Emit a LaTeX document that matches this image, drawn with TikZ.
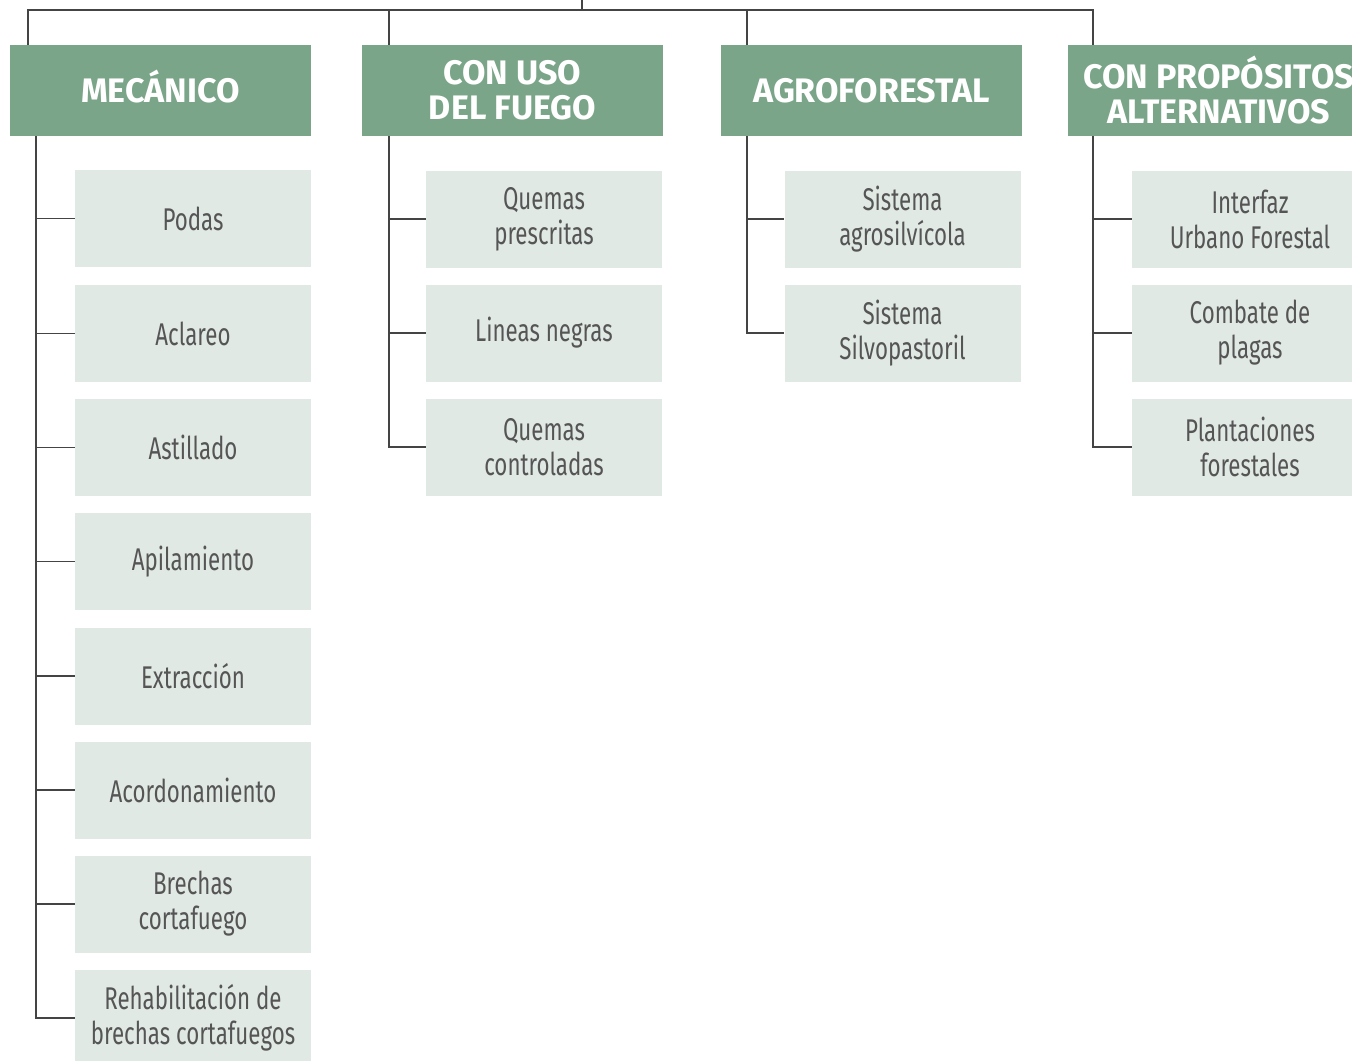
\documentclass[tikz,border=0pt]{standalone}
\usepackage{fontspec}
\setmainfont{Fira Sans}
\newfontfamily\itemfont[FakeStretch=0.71]{Fira Sans}
\newfontfamily\headfont{Fira Sans}
\definecolor{headgreen}{HTML}{7AA588}
\definecolor{itemgreen}{HTML}{E0E9E4}
\definecolor{linegray}{HTML}{444444}
\definecolor{textgray}{HTML}{555555}
\tikzset{
  head/.style={fill=headgreen, text=white, inner sep=0pt, align=center,
    minimum width=150.5pt, minimum height=45.5pt,
    font=\headfont\bfseries\fontsize{17}{17.5}\selectfont},
  headone/.style={head, text height=11.7pt, text depth=0pt},
  item/.style={fill=itemgreen, text=textgray, inner sep=0pt, align=center,
    minimum width=118pt, minimum height=48.5pt,
    font=\itemfont\fontsize{15.7}{17.5}\selectfont},
  link/.style={draw=linegray, line width=0.6pt}
}
\begin{document}
\begin{tikzpicture}[x=0.5pt,y=-0.5pt]
	\useasboundingbox (0,0) rectangle (1352,1060);
	\clip (0,0) rectangle (1352,1060);
	% cabeceras
	\node [headone] (mec) at (160.5,90.5) {MECÁNICO};
	\node [head] (fue) at (512.5,90.5) {CON USO\\DEL FUEGO};
	\node [headone] (agr) at (871.5,90.5) {AGROFORESTAL};
	\node [head] (alt) at (1218.5,90.5) {CON PROPÓSITOS\\ALTERNATIVOS};
	% mecanico
	\node [item] (podas) at (193,218.5) {Podas};
	\node [item] (aclareo) at (193,333.5) {Aclareo};
	\node [item] (astill) at (193,447.5) {Astillado};
	\node [item] (apil) at (193,561.5) {Apilamiento};
	\node [item] (extr) at (193,676) {Extracción};
	\node [item] (acord) at (193,790) {Acordonamiento};
	\node [item] (brechas) at (193,904) {Brechas\\cortafuego};
	\node [item] (rehab) at (193,1018) {Rehabilitación de\\brechas cortafuegos};
	% fuego
	\node [item] (qpres) at (544,219) {Quemas\\prescritas};
	\node [item] (lineas) at (544,333) {Lineas negras};
	\node [item] (qcont) at (544,447) {Quemas\\controladas};
	% agroforestal
	\node [item] (agros) at (902.5,219) {Sistema\\agrosilvícola};
	\node [item] (silvo) at (902.5,333) {Sistema\\Silvopastoril};
	% alternativos
	\node [item] (interf) at (1250,219) {Interfaz\\Urbano Forestal};
	\node [item] (plagas) at (1250,333) {Combate de\\plagas};
	\node [item] (plant) at (1250,447) {Plantaciones\\forestales};
	% lineas superiores
	\coordinate (root) at (582,0);
	\coordinate (d1) at (28,10);
	\coordinate (d2) at (389,10);
	\coordinate (d3) at (747,10);
	\coordinate (d4) at (1093,10);
	\draw [link] (root) -- (root |- d1);
	\draw [link] (mec.north -| d1) -- (d1) -- (d4) -- (alt.north -| d4);
	\draw [link] (d2) -- (fue.north -| d2);
	\draw [link] (d3) -- (agr.north -| d3);
	% ramas
	\coordinate (t1) at (36,0);
	\coordinate (t2) at (389,0);
	\coordinate (t3) at (747,0);
	\coordinate (t4) at (1093,0);
	\draw [link] (mec.south -| t1) |- (rehab.west);
	\foreach \n in {podas,aclareo,astill,apil,extr,acord,brechas}
		\draw [link] (t1 |- \n.west) -- (\n.west);
	\draw [link] (fue.south -| t2) |- (qcont.west);
	\draw [link] (t2 |- qpres.west) -- (qpres.west);
	\draw [link] (t2 |- lineas.west) -- (lineas.west);
	\draw [link] (agr.south -| t3) |- (silvo.west);
	\draw [link] (t3 |- agros.west) -- (agros.west);
	\draw [link] (alt.south -| t4) |- (plant.west);
	\draw [link] (t4 |- interf.west) -- (interf.west);
	\draw [link] (t4 |- plagas.west) -- (plagas.west);
\end{tikzpicture}
\end{document}
